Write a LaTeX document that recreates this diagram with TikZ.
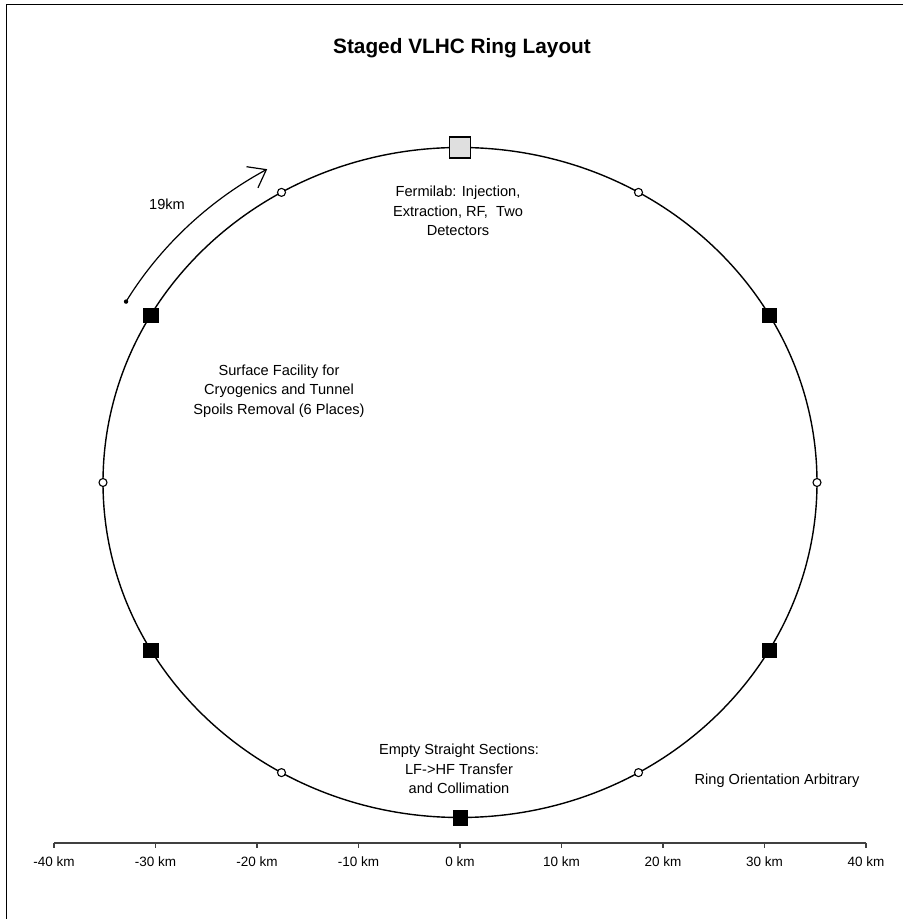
\documentclass[tikz,border=0pt]{standalone}
\usepackage{fontspec}
\setmainfont{Liberation Sans}
\usetikzlibrary{arrows.meta,calc}
\begin{document}
\begin{tikzpicture}[x=1pt,y=1pt,
  ringline/.style={line width=1.4pt},
  sqnode/.style={rectangle, draw=black, fill=black, minimum size=14.5pt, inner sep=0pt},
  topsq/.style={rectangle, draw=black, line width=1.2pt, fill=gray!25, minimum size=21pt, inner sep=0pt},
  smallcirc/.style={circle, draw=black, fill=white, line width=1.1pt, minimum size=8pt, inner sep=0pt},
  lbl/.style={font=\fontsize{14.6}{19.5}\selectfont, align=center, inner sep=0pt},
  ticklbl/.style={font=\fontsize{13.5}{16}\selectfont, inner sep=0pt},
  titlestyle/.style={font=\fontsize{20.8}{24}\selectfont\bfseries, inner sep=0pt},
  axisline/.style={line width=1.5pt, black!75},
  frameline/.style={line width=0.8pt}]
\useasboundingbox (0,0) rectangle (903,919);
% frame (top and left)
\coordinate (fTL) at (6,915);
\coordinate (fTR) at (903,915);
\coordinate (fBL) at (6,0);
\draw[frameline] (fTR) -- (fTL) -- (fBL);
% title
\node[titlestyle] (title) at (462,871) {Staged VLHC Ring Layout};
% ring
\coordinate (C) at (460,436.5);
\draw[ringline] (C) ellipse [x radius=357, y radius=335];
% markers
\foreach \a in {30,150,210,330,270}
  \node[sqnode] (s\a) at ($(C)+(\a:357 and 335)$) {};
\foreach \a in {0,60,120,180,240,300}
  \node[smallcirc] (c\a) at ($(C)+(\a:357 and 335)$) {};
\node[topsq] (s90) at ($(C)+(90:357 and 335)$) {};
% 19 km arrow
\coordinate (arcA) at ($(C)+(150:385.6 and 361.8)$);
\fill (arcA) circle (2.2);
\draw[line width=1.2pt, -{Straight Barb[length=16pt,width=24pt,line width=1.2pt]}]
  (arcA) arc[start angle=150, end angle=120, x radius=385.6, y radius=361.8];
\node[lbl] (l19) at (167,715) {19km};
% labels
\node[lbl] (lferm) at (458,708) {Fermilab: Injection,\\Extraction, RF,\ \ Two\\Detectors};
\node[lbl] (lsurf) at (279,528) {Surface Facility for\\Cryogenics and Tunnel\\Spoils Removal (6 Places)};
\node[lbl] (lempty) at (459,150) {Empty Straight Sections:\\LF->HF Transfer\\and Collimation};
\node[lbl] (lorient) at (777,138) {Ring Orientation Arbitrary};
% axis
\coordinate (axL) at (54.0,76);
\coordinate (axR) at (866.0,76);
\draw[axisline] (axL) -- (axR);
\foreach \k in {-40,-30,...,40} {
  \coordinate (t\k) at ({460+10.15*\k},76);
  \draw[axisline, line width=1.2pt] (t\k) -- ++(0,-5);
  \node[ticklbl] (tl\k) at ({460+10.15*\k},57) {\k\ km};
}
\end{tikzpicture}
\end{document}
